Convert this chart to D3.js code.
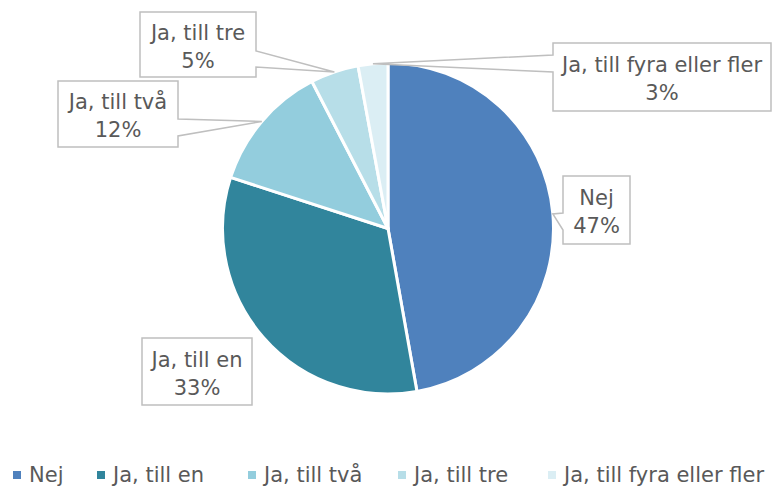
<!DOCTYPE html>
<html><head><meta charset="utf-8">
<script src="https://cdn.jsdelivr.net/npm/d3@7"></script>
<style>
html,body{margin:0;padding:0;background:#fff;}
svg{display:block;font-family:"DejaVu Sans",Verdana,sans-serif;}
</style></head>
<body><svg id="c" width="773" height="488"></svg>
<script>
const categories = ["Nej", "Ja, till en", "Ja, till två", "Ja, till tre", "Ja, till fyra eller fler"];
const values = [47.2, 32.8, 12.4, 4.7, 2.9];
const percentLabels = ["47%", "33%", "12%", "5%", "3%"];
const colors = ["#4f81bd", "#31859c", "#93cddd", "#b7dee8", "#dbeef4"];

// label box layout (not data)
const boxLayout = [
  {x0:563, y0:176, x1:630, y1:244, side:"left", a:213, b:230},
  {x0:142, y0:338, x1:252, y1:405, side:null},
  {x0:58, y0:81, x1:178, y1:147, side:"right", a:119, b:136},
  {x0:140, y0:12, x1:256, y1:77, side:"right", a:51, b:67},
  {x0:553, y0:43, x1:771, y1:111, side:"left", a:55, b:72}
];

const svg = d3.select("#c");
const cx = 388, cy = 228.5, r = 165.5;

const pie = d3.pie().sort(null).value(d => d)(values);
const arc = d3.arc().innerRadius(0).outerRadius(r);

const g = svg.append("g").attr("transform", `translate(${cx},${cy})`);
g.selectAll("path").data(pie).join("path")
  .attr("d", arc)
  .attr("fill", (d, i) => colors[i])
  .attr("stroke", "#fff").attr("stroke-width", 3).attr("stroke-linejoin", "round");

function calloutPath(b, tip) {
  const {x0, y0, x1, y1, side, a, b: bb} = b;
  if (side === "right") {
    return `M${x0},${y0}H${x1}V${a}L${tip[0]},${tip[1]}L${x1},${bb}V${y1}H${x0}Z`;
  } else if (side === "left") {
    return `M${x0},${y0}H${x1}V${y1}H${x0}V${bb}L${tip[0]},${tip[1]}L${x0},${a}Z`;
  }
  return `M${x0},${y0}H${x1}V${y1}H${x0}Z`;
}

pie.forEach((d, i) => {
  const b = boxLayout[i];
  const ang = (d.startAngle + d.endAngle) / 2;
  const tr = r;
  const tip = [cx + tr * Math.sin(ang), cy - tr * Math.cos(ang)];
  svg.append("path")
    .attr("d", calloutPath(b, tip))
    .attr("fill", "#fff")
    .attr("stroke", "#bfbfbf").attr("stroke-width", 1.5);
  const tx = (b.x0 + b.x1) / 2, ty = (b.y0 + b.y1) / 2;
  const t = svg.append("text").attr("text-anchor", "middle")
    .attr("fill", "#595959").attr("font-size", 21);
  t.append("tspan").attr("x", tx).attr("y", ty - 5).text(categories[i]);
  t.append("tspan").attr("x", tx).attr("y", ty + 23).text(percentLabels[i]);
});

// legend
const legendX = [13, 97, 248, 398, 548];
const lg = svg.append("g");
categories.forEach((c, i) => {
  lg.append("rect").attr("x", legendX[i]).attr("y", 471).attr("width", 8).attr("height", 8).attr("fill", colors[i]);
  lg.append("text").attr("x", legendX[i] + 16).attr("y", 482)
    .attr("fill", "#595959").attr("font-size", 21).text(c);
});
</script></body></html>
